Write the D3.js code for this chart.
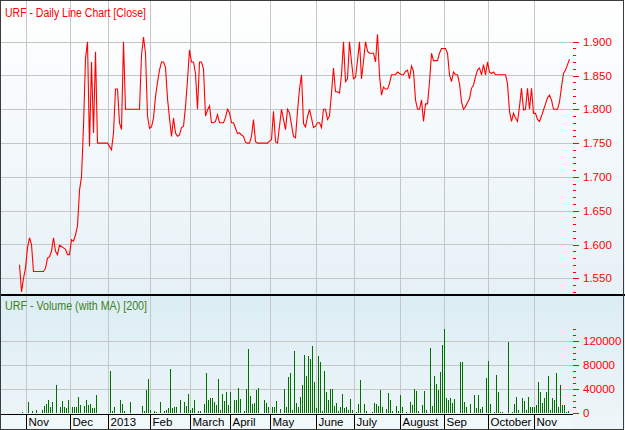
<!DOCTYPE html>
<html><head><meta charset="utf-8">
<script src="https://cdn.jsdelivr.net/npm/d3@7/dist/d3.min.js"></script>
<style>
body{margin:0;background:#fff;}
svg{display:block;font-family:"Liberation Sans",Arial,sans-serif;}
</style>
</head><body>
<svg id="c" width="625" height="430"></svg>
<script>
const priceTitle = "URF - Daily Line Chart [Close]";
const volumeTitle = "URF - Volume (with MA) [200]";

const closes = [
1.57,1.53,1.55,1.565,1.595,1.61,1.60,1.56,1.56,1.56,
1.56,1.56,1.56,1.565,1.58,1.582,1.59,1.61,1.59,1.585,
1.599,1.597,1.595,1.593,1.585,1.585,1.607,1.605,1.614,1.628,
1.68,1.70,1.775,1.875,1.90,1.745,1.87,1.765,1.885,1.75,
1.75,1.75,1.75,1.75,1.75,1.745,1.74,1.765,1.83,1.83,
1.78,1.77,1.90,1.80,1.80,1.80,1.80,1.80,1.80,1.80,
1.80,1.88,1.907,1.883,1.79,1.772,1.774,1.787,1.819,1.840,
1.858,1.870,1.870,1.862,1.816,1.787,1.76,1.787,1.765,1.760,
1.762,1.773,1.775,1.804,1.843,1.888,1.870,1.870,1.853,1.80,
1.870,1.870,1.86,1.79,1.799,1.805,1.780,1.780,1.782,1.792,
1.780,1.780,1.780,1.788,1.80,1.795,1.780,1.780,1.772,1.764,
1.765,1.762,1.76,1.751,1.75,1.75,1.76,1.785,1.752,1.75,
1.75,1.75,1.75,1.75,1.75,1.753,1.755,1.797,1.752,1.75,
1.775,1.80,1.785,1.77,1.80,1.795,1.777,1.76,1.758,1.797,
1.83,1.851,1.779,1.774,1.789,1.80,1.787,1.773,1.775,1.780,
1.78,1.773,1.80,1.80,1.785,1.79,1.824,1.861,1.826,1.826,
1.824,1.851,1.90,1.841,1.845,1.90,1.87,1.845,1.847,1.872,
1.90,1.845,1.871,1.90,1.886,1.883,1.883,1.883,1.87,1.911,
1.85,1.821,1.833,1.83,1.83,1.838,1.851,1.851,1.851,1.855,
1.853,1.851,1.851,1.856,1.858,1.845,1.864,1.856,1.814,1.80,
1.80,1.814,1.782,1.808,1.808,1.84,1.883,1.872,1.872,1.872,
1.883,1.89,1.89,1.89,1.883,1.851,1.841,1.855,1.851,1.851,
1.838,1.811,1.80,1.804,1.81,1.816,1.831,1.836,1.848,1.858,
1.861,1.851,1.866,1.851,1.870,1.855,1.853,1.855,1.851,1.851,
1.851,1.851,1.851,1.851,1.838,1.797,1.782,1.794,1.787,1.782,
1.804,1.831,1.799,1.80,1.831,1.80,1.831,1.794,1.794,1.785,
1.782,1.79,1.799,1.808,1.817,1.821,1.814,1.80,1.80,1.80,
1.811,1.833,1.853,1.858,1.866,1.874
];

const volumes = [
0,1300,0,0,17800,0,3000,0,4000,0,
0,4000,10700,15000,20600,9600,17800,0,45300,0,
9600,19000,9600,6900,21700,0,9600,8500,8500,26000,
12300,0,10700,20600,12300,15000,6900,6900,28800,0,
0,0,0,0,0,70000,2000,9600,0,0,
20600,15000,2000,0,0,17800,0,0,0,0,
0,10700,2000,38200,56300,4000,0,2000,1000,0,
17800,0,2000,4000,6900,72800,6900,9600,9600,0,
20600,0,17800,10700,30500,4000,6900,20600,0,2000,
2000,0,14000,65600,21700,23400,25000,17800,12400,56300,
4100,31600,19400,34300,12400,34300,0,20600,20600,41500,
22200,0,3000,39800,105700,28300,14000,15100,38200,41500,
0,0,21700,15100,8500,0,8500,9600,19400,0,
5200,0,39800,8500,60100,65600,4100,103000,16200,8500,
26000,45300,96400,61800,94700,89200,111200,50800,6900,94700,
83700,3000,70000,34300,21700,39800,39800,10700,15100,3000,
8500,31600,6900,9600,4100,22200,4100,0,1400,14000,
53500,0,14000,3000,0,0,500,15100,14000,10700,
37100,8500,0,5200,32600,21700,3000,0,10700,3000,
28800,9600,0,1400,0,17800,12400,38700,36000,3000,
0,12400,35500,4100,0,107000,10700,61800,46900,38200,
67300,112900,139700,24000,20600,24000,15100,22800,0,0,
83700,83700,17800,8500,0,14000,0,28800,6900,28800,
5200,9600,0,57400,86500,14000,0,1400,63500,34300,
1400,500,0,0,118400,0,1400,14000,26000,4100,
0,23400,19400,4100,26000,9600,8500,8500,12400,50800,
34300,15100,23400,34300,61800,4100,23400,21700,65600,9600,
45300,12400,12400,800,3000,0
];

const monthLabels = ["Nov","Dec","2013","Feb","March","April","May","June","July","August","Sep","October","Nov"];
const monthStartIdx = [4,26,45,66,86,106,126,149,168,191,213,235,258];
const priceTicks = [1.55,1.60,1.65,1.70,1.75,1.80,1.85,1.90];
const priceMinorTicks = d3.range(153,191).map(d => d/100);
const volumeTicks = [0,40000,80000,120000];
const volumeMinorTicks = d3.range(0,140001,10000);

// ---- layout ----
const W = 625, H = 430, plotR = 573;
const pTop = 0, pBot = 294, vTop = 296, vBot = 413, aTop = 414, aBot = 429;

const svg = d3.select("#c");
const defs = svg.append("defs");
const g1 = defs.append("linearGradient").attr("id","gp").attr("x1",0).attr("y1",0).attr("x2",0).attr("y2",1);
g1.append("stop").attr("offset","0%").attr("stop-color","#ffffff");
g1.append("stop").attr("offset","100%").attr("stop-color","#e6f1f6");
const g2 = defs.append("linearGradient").attr("id","gv").attr("x1",0).attr("y1",0).attr("x2",0).attr("y2",1);
g2.append("stop").attr("offset","0%").attr("stop-color","#dbedf4");
g2.append("stop").attr("offset","100%").attr("stop-color","#eef6f9");

svg.append("rect").attr("x",0).attr("y",pTop).attr("width",W).attr("height",pBot-pTop).attr("fill","url(#gp)");
svg.append("rect").attr("x",0).attr("y",vTop).attr("width",W).attr("height",aBot-vTop).attr("fill","url(#gv)");

const x = d3.scaleLinear().domain([0, closes.length-1]).range([19, 19 + 2*(closes.length-1)]);
const yP = d3.scaleLinear().domain([1.55,1.90]).range([278.3,41.7]);
const yV = d3.scaleLinear().domain([0,120000]).range([412.5,340.7]);
const gridX = i => Math.round(x(i)) - 1 + 0.5;

// grid
const grid = svg.append("g").attr("stroke","#c6c6c6").attr("stroke-width",1).attr("shape-rendering","crispEdges");
priceTicks.forEach(t => grid.append("line").attr("x1",0).attr("x2",plotR).attr("y1",Math.round(yP(t))+0.5).attr("y2",Math.round(yP(t))+0.5));
volumeTicks.slice(1).forEach(t => grid.append("line").attr("x1",0).attr("x2",plotR).attr("y1",Math.round(yV(t))+0.5).attr("y2",Math.round(yV(t))+0.5));
monthStartIdx.forEach(i => {
  grid.append("line").attr("x1",gridX(i)).attr("x2",gridX(i)).attr("y1",pTop).attr("y2",pBot);
  grid.append("line").attr("x1",gridX(i)).attr("x2",gridX(i)).attr("y1",vTop).attr("y2",aTop);
});

// volume bars
svg.append("g").attr("fill","#006f00").attr("shape-rendering","crispEdges")
  .selectAll("rect").data(volumes).join("rect")
  .attr("x",(d,i)=>Math.round(x(i))+1).attr("width",1)
  .attr("y",d=>yV(d)).attr("height",d=>yV(0)-yV(d));

// price line
svg.append("path").datum(closes)
  .attr("d", d3.line().x((d,i)=>Math.round(x(i))+0.5).y(d=>yP(d)))
  .attr("fill","none").attr("stroke","#ff0000").attr("stroke-width",1.1);

// right axes
function styleAxis(g){
  g.select(".domain").remove();
  g.selectAll("line").attr("stroke","#ff0000").attr("shape-rendering","crispEdges");
  g.selectAll("text").attr("fill","#ff0000").attr("font-size","11.5px").attr("font-family","Liberation Sans, Arial, sans-serif");
}
svg.append("g").attr("transform",`translate(${plotR},0)`)
  .call(d3.axisRight(yP).tickValues(priceMinorTicks).tickSize(3).tickFormat("")).call(styleAxis);
svg.append("g").attr("transform",`translate(${plotR},0)`)
  .call(d3.axisRight(yP).tickValues(priceTicks).tickSize(6).tickPadding(4).tickFormat(d3.format(".3f"))).call(styleAxis);
svg.append("g").attr("transform",`translate(${plotR},0)`)
  .call(d3.axisRight(yV).tickValues(volumeMinorTicks).tickSize(3).tickFormat("")).call(styleAxis);
svg.append("g").attr("transform",`translate(${plotR},0)`)
  .call(d3.axisRight(yV).tickValues(volumeTicks).tickSize(6).tickPadding(4).tickFormat(d3.format("d"))).call(styleAxis);

// x axis band
const ax = svg.append("g").attr("shape-rendering","crispEdges");
ax.append("rect").attr("x",0).attr("y",aTop).attr("width",plotR).attr("height",aBot-aTop).attr("fill","#f1f8fa");
ax.append("line").attr("x1",0).attr("x2",plotR).attr("y1",aTop+0.5).attr("y2",aTop+0.5).attr("stroke","#000").attr("stroke-width",1.5);
monthStartIdx.forEach((i,k) => {
  ax.append("line").attr("x1",gridX(i)).attr("x2",gridX(i)).attr("y1",aTop).attr("y2",aBot).attr("stroke","#000");
  ax.append("text").attr("x",gridX(i)+2).attr("y",426).attr("font-size","11.5px").attr("fill","#000").text(monthLabels[k]);
});

// panel separator
svg.append("rect").attr("x",0).attr("y",pBot).attr("width",W).attr("height",2).attr("fill","#000");

// titles
svg.append("text").attr("x",5).attr("y",17).attr("font-size","12px").attr("fill","#ff0000")
  .attr("textLength",141).attr("lengthAdjust","spacingAndGlyphs").text(priceTitle);
svg.append("text").attr("x",5).attr("y",310).attr("font-size","12px").attr("fill","#3f7f22")
  .attr("textLength",142).attr("lengthAdjust","spacingAndGlyphs").text(volumeTitle);

// outer border
svg.append("rect").attr("x",0.5).attr("y",0.5).attr("width",623).attr("height",428.5)
  .attr("fill","none").attr("stroke","#3c3c3c").attr("shape-rendering","crispEdges");
</script>
</body></html>
